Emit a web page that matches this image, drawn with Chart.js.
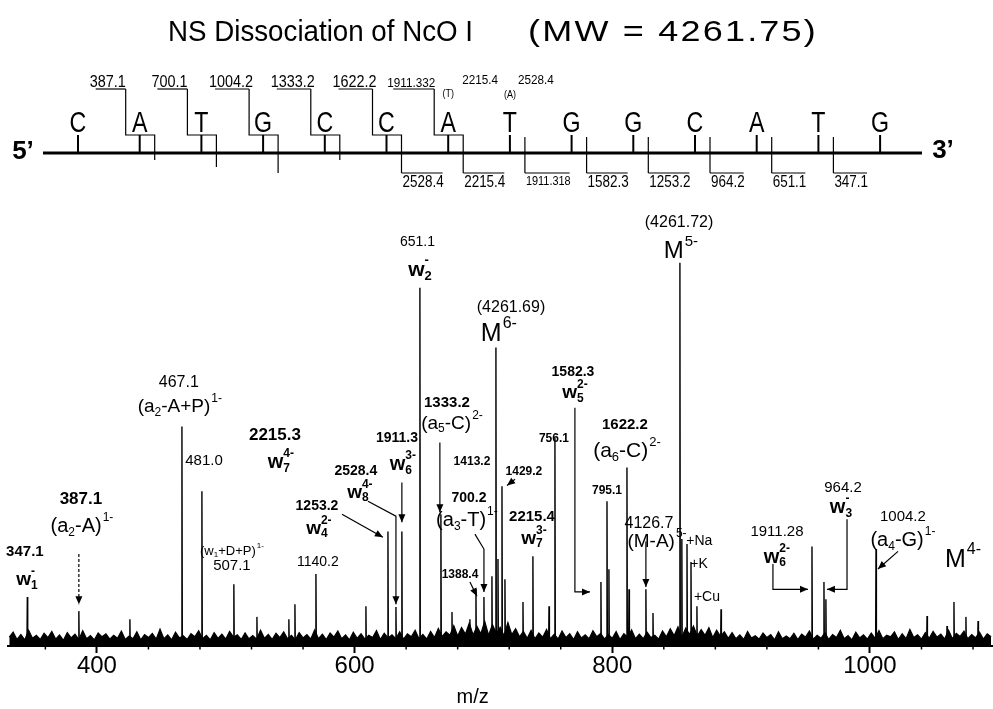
<!DOCTYPE html>
<html><head><meta charset="utf-8">
<script src="https://cdn.jsdelivr.net/npm/chart.js@4.4.1/dist/chart.umd.min.js"></script>
<style>html,body{margin:0;padding:0;background:#fff;}canvas{display:block;}</style>
</head><body>
<canvas id="c" width="993" height="709"></canvas>
<script>
// ---------------- data ----------------
const titleMain = 'NS Dissociation of NcO I';
const titleMW = '(MW = 4261.75)';
const peakMz = [346.0, 386.0, 425.6, 466.0, 481.5, 506.3, 524.2, 549.0, 553.7, 570.0,
  608.8, 625.9, 632.1, 636.7, 650.7, 667.0, 675.6, 689.5, 694.2, 700.4,
  706.6, 709.7, 711.3, 714.4, 716.7, 730.7, 738.4, 750.9, 755.5, 791.2,
  795.9, 797.4, 811.4, 813.0, 826.1, 831.6, 852.5, 854.0, 858.0, 861.1,
  865.7, 884.4, 955.0, 964.3, 965.8, 1004.7, 1044.3, 1059.8, 1065.2, 1074.5, 1083.9];
const peakInt = [12.8, 9.1, 7.0, 57.3, 40.4, 16.1, 7.6, 7.0, 10.9, 18.8,
  10.4, 29.9, 10.2, 29.9, 93.5, 34.4, 8.9, 7.0, 14.8, 12.8,
  18.2, 77.9, 22.7, 41.7, 17.4, 11.5, 23.4, 10.4, 54.4, 16.7,
  37.8, 20.0, 46.6, 14.8, 14.8, 8.6, 100, 27.9, 26.6, 21.9,
  10.4, 9.6, 26.0, 16.7, 12.2, 25.3, 7.8, 5.2, 11.5, 7.6, 6.5];
const noiseStart = 332, noiseStep = 3;
const noiseInt = [
  2.3,3.6,1.7,3.0,1.6,4.1,2.0,2.8,1.7,3.3,2.2,3.8,1.8,2.9,1.5,3.5,2.1,
  3.1,1.7,4.0,1.9,2.7,1.6,3.4,2.4,3.2,1.8,2.8,2.0,3.9,1.7,2.6,1.9,3.7,
  1.6,3.0,2.2,3.3,1.8,4.4,1.9,2.9,1.6,3.6,2.1,2.7,1.7,3.2,2.4,4.0,1.9,
  2.8,1.6,3.5,2.0,3.1,1.8,3.8,2.3,2.9,1.7,3.4,1.9,2.7,1.8,4.1,2.0,3.0,
  1.7,3.3,2.2,3.7,1.9,2.8,1.6,3.5,2.1,3.0,1.8,4.2,1.9,3.1,1.7,3.4,2.3,
  3.9,1.9,2.9,1.6,3.6,2.0,3.2,1.8,2.8,2.2,4.0,1.7,3.3,2.1,2.9,1.9,3.7,
  1.8,3.2,2.4,4.1,1.9,3.0,1.8,3.8,2.2,4.6,2.5,3.7,2.8,5.3,2.6,4.8,3.1,
  6.0,2.9,5.1,3.2,6.4,2.8,5.6,3.3,4.9,2.7,6.1,3.0,4.5,2.4,3.8,2.0,4.1,
  1.9,3.4,2.3,4.3,1.9,3.1,1.8,3.9,2.2,3.2,1.7,3.7,2.1,2.9,1.9,4.0,2.4,
  3.3,1.8,3.0,2.0,3.8,1.7,3.2,2.3,4.2,1.9,3.1,1.9,3.6,2.2,2.8,1.8,3.9,
  2.4,4.5,2.7,5.0,2.3,4.7,3.0,5.2,2.6,4.3,2.8,4.8,2.2,4.1,2.5,3.7,2.0,
  3.5,1.9,2.9,1.7,3.8,2.1,2.7,1.8,3.4,2.2,3.0,1.6,3.7,1.9,2.6,1.9,3.3,
  1.7,3.1,2.3,3.9,1.8,2.8,2.0,3.5,1.7,3.0,2.2,4.1,1.9,2.7,1.6,3.6,2.1,
  2.9,1.8,3.4,2.0,4.0,1.9,2.8,2.4,3.7,1.7,3.2,1.9,4.3,2.2,2.9,1.8,3.5,
  2.0,3.8,2.3,3.1,1.8,4.1,1.9,3.3,2.5,3.9,1.9,3.0,2.1,3.6,1.8,3.2,2.4];
const tickValues = [360,400,440,480,520,560,600,640,680,720,760,800,840,880,920,960,1000,1040,1080];
const majorTicks = [400,600,800,1000];
const bases = ['C','A','T','G','C','C','A','T','G','G','C','A','T','G'];
const aIonLabels = ['387.1','700.1','1004.2','1333.2','1622.2','1911.332','2215.4','2528.4'];
const wIonLabels = ['2528.4','2215.4','1911.318','1582.3','1253.2','964.2','651.1','347.1'];

// ---------------- annotation layout ----------------
const FONT = '"Liberation Sans", Arial, sans-serif';
const labels = [
 {p:['(4261.72)'], x:851.8, y:110.4, s:16},
 {p:['M','^5-'], x:853.3, y:102.9, s:24},
 {p:['651.1'], x:648.8, y:105.5, s:14},
 {p:['w','_2','^-'], x:650.7, y:98.2, s:21, b:1},
 {p:['(4261.69)'], x:721.4, y:88.3, s:16},
 {p:['M','^6-'], x:712.0, y:81.5, s:25},
 {p:['467.1'], x:463.6, y:68.75, s:16},
 {p:['(a','_2','-A+P)','^1-'], x:464.4, y:62.5, s:19},
 {p:['2215.3'], x:538.2, y:54.9, s:17, b:1},
 {p:['w','_7','^4-'], x:542.8, y:47.9, s:20, b:1},
 {p:['481.0'], x:483.1, y:48.2, s:15},
 {p:['1911.3'], x:632.9, y:54.2, s:14, b:1},
 {p:['w','_6','^3-'], x:637.5, y:47.4, s:20, b:1},
 {p:['1333.2'], x:671.7, y:63.5, s:15, b:1},
 {p:['(a','_5','-C)','^2-'], x:675.6, y:58.1, s:19},
 {p:['1413.2'], x:691.1, y:48.2, s:12, b:1},
 {p:['700.2'], x:688.8, y:38.5, s:14, b:1},
 {p:['(a','_3','-T)','^1-'], x:687.2, y:32.8, s:20},
 {p:['1388.4'], x:681.8, y:18.5, s:12, b:1},
 {p:['1429.2'], x:731.4, y:45.6, s:12, b:1},
 {p:['2215.4'], x:737.7, y:33.6, s:15, b:1},
 {p:['w','_7','^3-'], x:739.2, y:28.1, s:19, b:1},
 {p:['756.1'], x:754.7, y:54.2, s:12, b:1},
 {p:['1582.3'], x:769.5, y:71.6, s:14, b:1},
 {p:['w','_5','^2-'], x:771.0, y:66.1, s:19, b:1},
 {p:['1622.2'], x:809.8, y:57.6, s:15, b:1},
 {p:['(a','_6','-C)','^2-'], x:811.4, y:50.8, s:21},
 {p:['795.1'], x:795.9, y:40.6, s:12, b:1},
 {p:['4126.7'], x:828.5, y:32.0, s:16},
 {p:['(M-A)','^5-'], x:834.7, y:27.1, s:19},
 {p:['+Na'], x:867.5, y:27.3, s:14},
 {p:['+K'], x:867.3, y:21.4, s:14},
 {p:['+Cu'], x:873.5, y:12.8, s:14},
 {p:['1911.28'], x:927.8, y:29.9, s:15},
 {p:['w','_6','^2-'], x:927.8, y:23.2, s:20, b:1},
 {p:['964.2'], x:979.1, y:41.4, s:15},
 {p:['w','_3','^-'], x:977.5, y:36.2, s:20, b:1},
 {p:['1004.2'], x:1025.6, y:33.6, s:15},
 {p:['(a','_4','-G)','^1-'], x:1025.6, y:27.6, s:20},
 {p:['M','^4-'], x:1072.2, y:22.4, s:25},
 {p:['387.1'], x:387.6, y:38.3, s:17, b:1},
 {p:['(a','_2','-A)','^1-'], x:388.4, y:31.25, s:20},
 {p:['347.1'], x:344.1, y:24.5, s:15, b:1},
 {p:['w','_1','^-'], x:345.7, y:17.2, s:19, b:1},
 {p:['(w','_1','+D+P)','^1-'], x:504.8, y:24.7, s:13},
 {p:['507.1'], x:504.8, y:20.8, s:15},
 {p:['1140.2'], x:571.5, y:21.9, s:14},
 {p:['1253.2'], x:570.8, y:36.5, s:14, b:1},
 {p:['w','_4','^2-'], x:572.3, y:30.7, s:19, b:1},
 {p:['2528.4'], x:601.0, y:45.6, s:14, b:1},
 {p:['w','_8','^4-'], x:604.1, y:40.1, s:19, b:1}
];
const arrows = [
 {pts:[[386.0,24.0],[386.0,10.9]], dash:true},
 {pts:[[590.2,34.4],[622.0,28.4]]},
 {pts:[[610.4,37.8],[632.1,33.9],[632.1,10.9]]},
 {pts:[[636.7,42.7],[636.7,32.3]]},
 {pts:[[666.2,53.1],[666.2,34.9]]},
 {pts:[[693.4,29.2],[700.4,25.3],[700.4,14.1]]},
 {pts:[[689.5,16.7],[695.0,13.0]]},
 {pts:[[724.5,43.5],[718.3,41.9]]},
 {pts:[[771.0,62.2],[771.0,14.1],[782.7,14.1]]},
 {pts:[[826.1,27.3],[826.1,15.4]]},
 {pts:[[924.7,21.4],[924.7,14.8],[951.9,14.8]]},
 {pts:[[982.2,33.1],[982.2,14.8],[966.6,14.8]]},
 {pts:[[1021.8,24.7],[1006.2,20.1]]}
];

// ---------------- helpers ----------------
function richDraw(ctx, a, cx, cy) {
  const s = a.s, wt = a.b ? 'bold ' : '';
  const small = Math.round(s * 0.62);
  let x = 0, lastSub = null;
  const items = [];
  for (const part of a.p) {
    let mode = '', txt = part;
    if (part[0] === '_' || part[0] === '^') { mode = part[0]; txt = part.slice(1); }
    const size = mode ? small : s;
    const font = wt + size + 'px ' + FONT;
    ctx.font = font;
    const w = ctx.measureText(txt).width;
    let px = x;
    if (mode === '^' && lastSub) { px = lastSub.x; x = Math.max(x, px + w); }
    else if (mode === '^') { px = x + 1; x = px + w; }
    else { x = px + w; }
    items.push({txt, px, mode, font});
    lastSub = mode === '_' ? {x: px} : null;
  }
  const left = cx - x / 2;
  for (const it of items) {
    ctx.font = it.font;
    const dy = it.mode === '_' ? s * 0.3 : it.mode === '^' ? -s * 0.42 : 0;
    ctx.fillText(it.txt, left + it.px, cy + dy);
  }
}
// text drawn with a horizontal scale factor (and optional letter spacing)
function scaledText(ctx, txt, x, y, size, align, baseline, sx, ls) {
  ctx.save();
  ctx.font = size + 'px ' + FONT;
  ctx.textAlign = align; ctx.textBaseline = baseline;
  if (ls && 'letterSpacing' in ctx) ctx.letterSpacing = ls + 'px';
  ctx.translate(x, y); ctx.scale(sx, 1);
  ctx.fillText(txt, 0, 0);
  const w = ctx.measureText(txt).width * sx;
  ctx.restore();
  return w;
}
function arrowHead(ctx, x0, y0, x1, y1) {
  const ang = Math.atan2(y1 - y0, x1 - x0), L = 8, W = 3.5;
  ctx.beginPath();
  ctx.moveTo(x1, y1);
  ctx.lineTo(x1 - L * Math.cos(ang) + W * Math.sin(ang), y1 - L * Math.sin(ang) - W * Math.cos(ang));
  ctx.lineTo(x1 - L * Math.cos(ang) - W * Math.sin(ang), y1 - L * Math.sin(ang) + W * Math.cos(ang));
  ctx.closePath();
  ctx.fill();
}

const annotationPlugin = {
  id: 'spectrumAnnotations',
  afterDatasetsDraw(chart) {
    const ctx = chart.ctx, xs = chart.scales.x, ys = chart.scales.y;
    ctx.save();
    ctx.fillStyle = '#000'; ctx.strokeStyle = '#000';
    ctx.textBaseline = 'middle'; ctx.textAlign = 'left';
    for (const a of labels) richDraw(ctx, a, xs.getPixelForValue(a.x), ys.getPixelForValue(a.y));
    for (const ar of arrows) {
      const P = ar.pts.map(p => [xs.getPixelForValue(p[0]), ys.getPixelForValue(p[1])]);
      ctx.lineWidth = 1.2;
      ctx.setLineDash(ar.dash ? [3, 2] : []);
      ctx.beginPath();
      P.forEach((p, i) => i ? ctx.lineTo(p[0], p[1]) : ctx.moveTo(p[0], p[1]));
      ctx.stroke();
      ctx.setLineDash([]);
      const n = P.length;
      arrowHead(ctx, P[n - 2][0], P[n - 2][1], P[n - 1][0], P[n - 1][1]);
    }
    // minor tick marks
    const yb = chart.chartArea.bottom;
    ctx.lineWidth = 1.5;
    for (const v of tickValues) {
      if (majorTicks.includes(v)) continue;
      const px = xs.getPixelForValue(v);
      ctx.beginPath(); ctx.moveTo(px, yb); ctx.lineTo(px, yb + 3.5); ctx.stroke();
    }
    ctx.restore();
  }
};

const headerPlugin = {
  id: 'headerAndSequence',
  afterDraw(chart) {
    const ctx = chart.ctx;
    ctx.save();
    ctx.fillStyle = '#000'; ctx.strokeStyle = '#000';
    // title: two parts
    ctx.font = '29px ' + FONT;
    const w1 = ctx.measureText(titleMain).width;
    scaledText(ctx, titleMain, 168, 33, 29, 'left', 'middle', 305 / w1, 0);
    ctx.font = '30px ' + FONT;
    const w2 = ctx.measureText(titleMW).width;
    const sx2 = 1.2;
    const ls2 = Math.max(0, (290 / sx2 - w2) / titleMW.length);
    scaledText(ctx, titleMW, 528, 33, 30, 'left', 'middle', sx2, ls2);

    const lineY = 153, bx = i => 78 + 61.7 * i;
    const aBottoms = [160, 167, 173, 160, 173, 173];
    // backbone
    ctx.lineWidth = 3;
    ctx.beginPath(); ctx.moveTo(43, lineY); ctx.lineTo(922, lineY); ctx.stroke();
    // ends
    ctx.font = 'bold 26px ' + FONT; ctx.textBaseline = 'middle'; ctx.textAlign = 'center';
    ctx.fillText('5\u2019', 23, 152);
    ctx.fillText('3\u2019', 943, 151);
    // bases + stems
    bases.forEach((b, i) => {
      scaledText(ctx, b, bx(i), 124, 29, 'center', 'middle', 0.8, 0);
      ctx.lineWidth = 2;
      ctx.beginPath(); ctx.moveTo(bx(i), 135); ctx.lineTo(bx(i), lineY); ctx.stroke();
    });
    // a-type fragment brackets (5' side)
    ctx.lineWidth = 1.2;
    for (let i = 1; i <= 6; i++) {
      const lx = bx(i) - 14, rx = bx(i) + 15;
      ctx.beginPath(); ctx.moveTo(lx, 89); ctx.lineTo(lx, 135); ctx.lineTo(rx, 135); ctx.lineTo(rx, aBottoms[i - 1]); ctx.stroke();
      const txt = aIonLabels[i - 1];
      const sz = i === 6 ? 13 : 16;
      const cx = bx(i) - (i === 6 ? 37 : 32);
      const w = scaledText(ctx, txt, cx, 87, sz, 'center', 'alphabetic', 0.9, 0);
      ctx.beginPath(); ctx.moveTo(cx - w / 2 + 6, 89); ctx.lineTo(lx, 89); ctx.stroke();
    }
    scaledText(ctx, aIonLabels[6], bx(6) + 32, 80, 13, 'center', 'middle', 0.9, 0);
    scaledText(ctx, aIonLabels[7], bx(7) + 26, 80, 13, 'center', 'middle', 0.9, 0);
    scaledText(ctx, '(T)', bx(6), 94, 10, 'center', 'middle', 0.9, 0);
    scaledText(ctx, '(A)', bx(7), 95, 10, 'center', 'middle', 0.9, 0);
    // w-type fragment brackets (3' side)
    for (let i = 5; i <= 12; i++) {
      const wx = bx(i) + 15, txt = wIonLabels[i - 5];
      if (i >= 7) { ctx.beginPath(); ctx.moveTo(wx, 137); ctx.lineTo(wx, 173); ctx.stroke(); }
      const w = scaledText(ctx, txt, wx + 1, 175, txt === '1911.318' ? 13 : 16, 'left', 'top', 0.84, 0);
      ctx.beginPath(); ctx.moveTo(wx, 173); ctx.lineTo(wx + w, 173); ctx.stroke();
    }
    ctx.restore();
  }
};

// ---------------- chart ----------------
const noisePts = noiseInt.map((v, i) => ({x: noiseStart + i * noiseStep, y: v}));
const order = peakMz.map((m, i) => i).sort((a, b) => peakMz[a] - peakMz[b]);
const peakPts = [];
for (const i of order) {
  peakPts.push({x: peakMz[i] - 0.3, y: 0}, {x: peakMz[i], y: peakInt[i]}, {x: peakMz[i] + 0.3, y: 0});
}

new Chart(document.getElementById('c'), {
  type: 'line',
  data: {
    datasets: [
      {label: 'noise', data: noisePts, borderColor: '#000', backgroundColor: '#000', borderWidth: 1.2, fill: 'origin', pointRadius: 0, tension: 0},
      {label: 'peaks', data: peakPts, borderColor: '#000', borderWidth: 1.4, fill: false, pointRadius: 0, tension: 0}
    ]
  },
  options: {
    responsive: false, animation: false, devicePixelRatio: 1,
    layout: {padding: {left: 8, right: 0, top: 200, bottom: 0}},
    plugins: {legend: {display: false}, tooltip: {enabled: false}, title: {display: false}},
    scales: {
      x: {
        type: 'linear', min: 331, max: 1095.5,
        afterBuildTicks: s => { s.ticks = tickValues.map(v => ({value: v})); },
        border: {display: true, color: '#000', width: 2},
        grid: {drawOnChartArea: false, drawTicks: true, tickLength: 7, tickWidth: 2,
          tickColor: c => (c.tick && majorTicks.includes(c.tick.value)) ? '#000' : 'rgba(0,0,0,0)'},
        ticks: {autoSkip: false, maxRotation: 0, padding: 1, color: '#000',
          font: {family: FONT, size: 24, lineHeight: 1.0},
          callback: v => majorTicks.includes(v) ? String(v) : ''},
        title: {display: true, text: 'm/z          ', color: '#000',
          font: {family: FONT, size: 20, lineHeight: 1.2}, padding: {top: 6, bottom: 0}}
      },
      y: {display: false, min: 0, max: 116.4}
    }
  },
  plugins: [annotationPlugin, headerPlugin]
});
</script>
</body></html>
